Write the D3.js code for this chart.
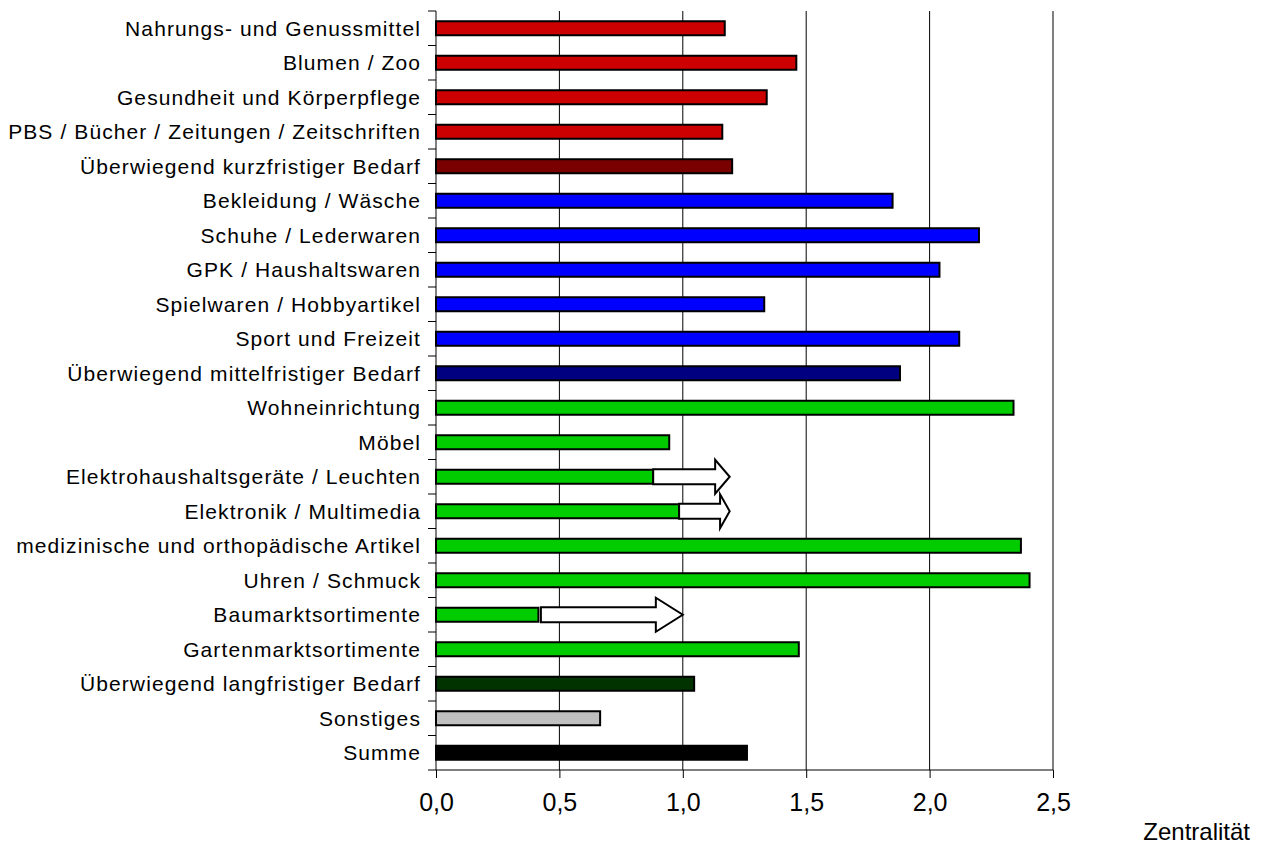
<!DOCTYPE html>
<html>
<head>
<meta charset="utf-8">
<script src="https://cdn.jsdelivr.net/npm/d3@7"></script>
<style>
    body { margin: 0; background: #fff; }
    svg { display: block; }
</style>
</head>
<body>
<div id="chart"></div>
<script>
// Kategorien und Zentralitätswerte
const categories = [
    "Nahrungs- und Genussmittel",
    "Blumen / Zoo",
    "Gesundheit und Körperpflege",
    "PBS / Bücher / Zeitungen / Zeitschriften",
    "Überwiegend kurzfristiger Bedarf",
    "Bekleidung / Wäsche",
    "Schuhe / Lederwaren",
    "GPK / Haushaltswaren",
    "Spielwaren / Hobbyartikel",
    "Sport und Freizeit",
    "Überwiegend mittelfristiger Bedarf",
    "Wohneinrichtung",
    "Möbel",
    "Elektrohaushaltsgeräte / Leuchten",
    "Elektronik / Multimedia",
    "medizinische und orthopädische Artikel",
    "Uhren / Schmuck",
    "Baumarktsortimente",
    "Gartenmarktsortimente",
    "Überwiegend langfristiger Bedarf",
    "Sonstiges",
    "Summe"
];
const values = [1.17, 1.46, 1.34, 1.16, 1.20, 1.85, 2.20, 2.04, 1.33, 2.12, 1.88,
    2.34, 0.945, 0.88, 0.985, 2.37, 2.405, 0.415, 1.47, 1.046, 0.665, 1.26];
const groups = ["kurz", "kurz", "kurz", "kurz", "kurzSum", "mittel", "mittel", "mittel", "mittel", "mittel", "mittelSum",
    "lang", "lang", "lang", "lang", "lang", "lang", "lang", "lang", "langSum", "sonst", "summe"];

// Pfeile (Potenzial): Kategorie, Startwert, Zielwert
const arrowCategories = ["Elektrohaushaltsgeräte / Leuchten", "Elektronik / Multimedia", "Baumarktsortimente"];
const arrowFrom = [0.88, 0.985, 0.425];
const arrowTo = [1.19, 1.19, 1.0];

const xTicks = [0, 0.5, 1.0, 1.5, 2.0, 2.5];
const axisTitle = "Zentralität";

const colors = {
    kurz: "#cc0000", kurzSum: "#7a0000",
    mittel: "#0000ff", mittelSum: "#000080",
    lang: "#00cc00", langSum: "#003300",
    sonst: "#c0c0c0", summe: "#000000"
};

const width = 1275, height = 844;
const plotLeft = 436, plotRight = 1053, plotTop = 11, plotBottom = 770;
const font = "'Liberation Sans', Arial, Helvetica, sans-serif";

const svg = d3.select("#chart").append("svg")
    .attr("width", width)
    .attr("height", height)
    .attr("viewBox", `0 0 ${width} ${height}`);

const x = d3.scaleLinear().domain([0, 2.5]).range([plotLeft, plotRight]);
const y = d3.scaleBand().domain(categories).range([plotTop, plotBottom]).paddingInner(0).paddingOuter(0);

//Gitternetzlinien
svg.append("g")
    .selectAll("line")
    .data(xTicks.filter(d => d > 0))
    .join("line")
    .attr("x1", d => x(d)).attr("x2", d => x(d))
    .attr("y1", plotTop).attr("y2", plotBottom)
    .attr("stroke", "#000")
    .attr("stroke-width", 1);

// Balken
const barH = 14;
svg.append("g")
    .selectAll("rect")
    .data(categories)
    .join("rect")
    .attr("x", x(0))
    .attr("y", d => y(d) + y.bandwidth() / 2 - barH / 2)
    .attr("width", (d, i) => x(values[i]) - x(0))
    .attr("height", barH)
    .attr("fill", (d, i) => colors[groups[i]])
    .attr("stroke", "#000")
    .attr("stroke-width", 2);

// Pfeile
function arrowPath(x0, x1, cy) {
    const len = x1 - x0;
    const headLen = Math.min(27, len * 0.19);
    const bh = 7.5, hh = 17;
    const xb = x1 - headLen;
    return `M${x0},${cy - bh}L${xb},${cy - bh}L${xb},${cy - hh}L${x1},${cy}L${xb},${cy + hh}L${xb},${cy + bh}L${x0},${cy + bh}Z`;
}
svg.append("g")
    .selectAll("path")
    .data(arrowCategories)
    .join("path")
    .attr("d", (d, i) => arrowPath(x(arrowFrom[i]), x(arrowTo[i]), y(d) + y.bandwidth() / 2))
    .attr("fill", "#fff")
    .attr("stroke", "#000")
    .attr("stroke-width", 2)
    .attr("stroke-linejoin", "miter");

// y-Achse
const yAxis = svg.append("g")
    .attr("transform", `translate(${plotLeft},0)`);
yAxis.append("line")
    .attr("x1", 0).attr("x2", 0).attr("y1", plotTop).attr("y2", plotBottom)
    .attr("stroke", "#000").attr("stroke-width", 1);
yAxis.selectAll("line.tick")
    .data(d3.range(categories.length + 1))
    .join("line")
    .attr("class", "tick")
    .attr("x1", -8).attr("x2", 0)
    .attr("y1", i => plotTop + i * y.step()).attr("y2", i => plotTop + i * y.step())
    .attr("stroke", "#000");
yAxis.selectAll("text")
    .data(categories)
    .join("text")
    .attr("x", -15)
    .attr("y", d => y(d) + y.bandwidth() / 2)
    .attr("dy", "0.35em")
    .attr("text-anchor", "end")
    .attr("font-family", font)
    .attr("font-size", "21px")
    .attr("letter-spacing", "1.1px")
    .attr("fill", "#000")
    .text(d => d);

// x-Achse
const xAxis = svg.append("g")
    .attr("transform", `translate(0,${plotBottom})`)
    .call(d3.axisBottom(x).tickValues(xTicks).tickSize(8).tickPadding(15)
        .tickFormat(d => d3.format(".1f")(d).replace(".", ",")));
xAxis.select(".domain").attr("stroke", "#000").attr("d", `M${plotLeft},0H${plotRight}`);
xAxis.selectAll("text")
    .attr("font-family", font)
    .attr("font-size", "25px")
    .attr("fill", "#000");

svg.append("text")
    .attr("x", 1250)
    .attr("y", 840)
    .attr("text-anchor", "end")
    .attr("font-family", font)
    .attr("font-size", "24px")
    .attr("fill", "#000")
    .text(axisTitle);
</script>
</body>
</html>
